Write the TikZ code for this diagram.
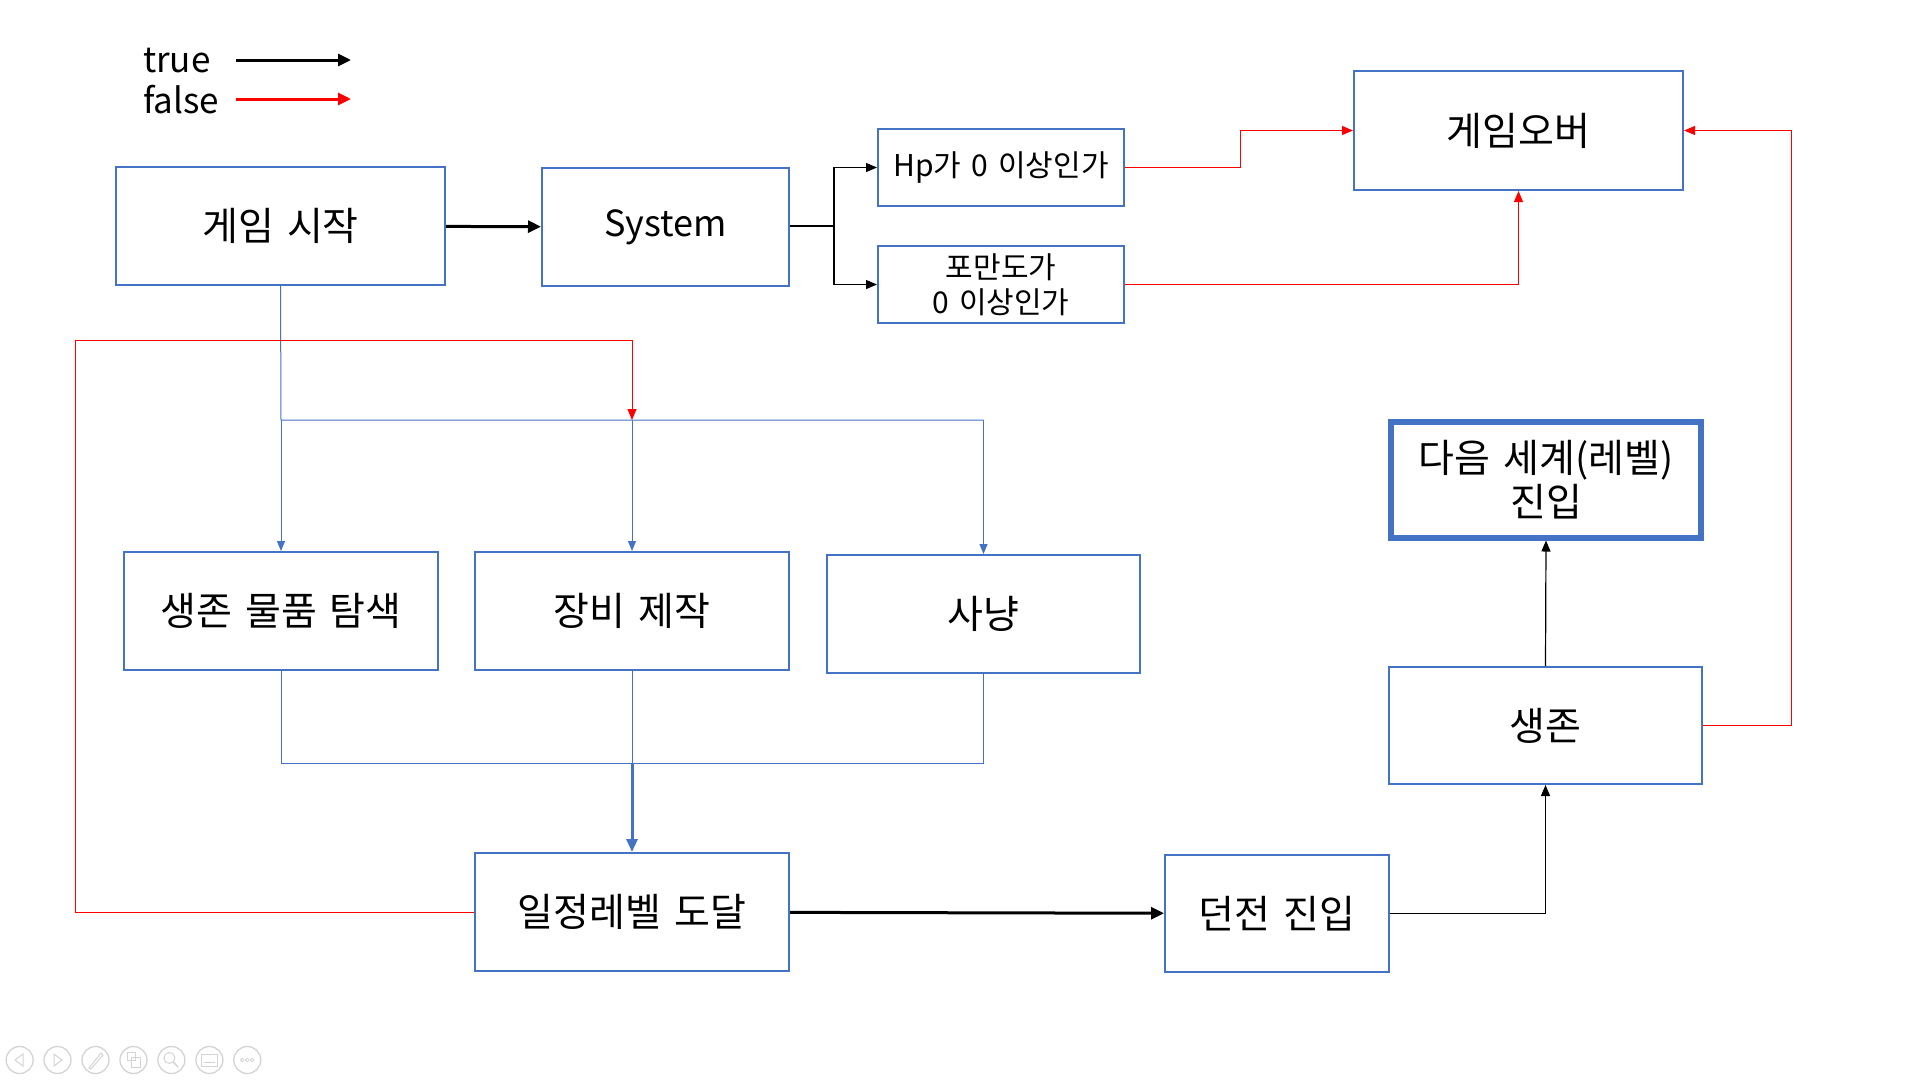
\documentclass[tikz,border=0pt]{standalone}
\usepackage{fontspec}
\setmainfont[WordSpace=1.5]{Noto Sans CJK KR}
\usetikzlibrary{arrows.meta}

\definecolor{boxblue}{HTML}{4472C4}
\definecolor{falsered}{HTML}{FF0000}
\definecolor{iconline}{HTML}{D4D4D4}

\tikzset{
  box/.style={draw=boxblue, line width=2pt, fill=white, inner sep=0pt,
              align=center, font=\fontsize{39}{44}\selectfont},
  smallbox/.style={box, font=\fontsize{30}{35}\selectfont},
  bigframe/.style={box, line width=6pt},
  legendtext/.style={anchor=west, inner sep=0pt, font=\fontsize{35}{40}\selectfont},
  thinblack/.style={line width=1.2pt, -{Triangle[length=11pt,width=9pt]}},
  thickblack/.style={line width=3pt, -{Triangle[length=13pt,width=12pt]}},
  thinred/.style={draw=falsered, line width=1pt, -{Triangle[length=11pt,width=9pt]}},
  thickred/.style={draw=falsered, line width=3pt, -{Triangle[length=13pt,width=12pt]}},
  blueline/.style={draw=boxblue, line width=1pt},
  bluearrow/.style={blueline, -{Triangle[length=10pt,width=8pt]}},
  thickblue/.style={draw=boxblue, line width=3pt, -{Triangle[length=13pt,width=11pt]}},
  icon/.style={draw=iconline, line width=1.3pt},
}

\begin{document}
\begin{tikzpicture}[x=1pt, y=-1pt]
  \useasboundingbox[fill=white] (0,0) rectangle (1920,1080);

  % legend
  \node[legendtext] (ltrue) at (143,61) {true};
  \node[legendtext] (lfalse) at (143,100) {false};
  \coordinate (ltrueA) at (236,60);  \coordinate (ltrueB) at (351,60);
  \coordinate (lfalseA) at (236,99); \coordinate (lfalseB) at (351,99);
  \draw[thickblack] (ltrueA) -- (ltrueB);
  \draw[thickred] (lfalseA) -- (lfalseB);

  % boxes
  \node[box, minimum width=329, minimum height=118] (start) at (280.5,226) {게임 시작};
  \node[box, minimum width=247, minimum height=118, font=\fontsize{36}{42}\selectfont] (sys) at (665.5,227) {System};
  \node[smallbox, minimum width=246, minimum height=77] (hp) at (1001,167.5) {Hp가 0 이상인가};
  \node[smallbox, minimum width=246, minimum height=77] (food) at (1001,284.5) {포만도가\\0 이상인가};
  \node[box, minimum width=329, minimum height=119] (over) at (1518.5,130.5) {게임오버};
  \node[bigframe, minimum width=310, minimum height=116] (next) at (1546,479.5) {다음 세계(레벨)\\진입};
  \node[box, minimum width=313, minimum height=117] (live) at (1545.5,725.5) {생존};
  \node[box, minimum width=314, minimum height=118] (find) at (281,611) {생존 물품 탐색};
  \node[box, minimum width=314, minimum height=118] (craft) at (632,611) {장비 제작};
  \node[box, minimum width=313, minimum height=118] (hunt) at (983.5,614) {사냥};
  \node[box, minimum width=314, minimum height=118] (lvl) at (632,912) {일정레벨 도달};
  \node[box, minimum width=224, minimum height=117] (dungeon) at (1277,913.5) {던전 진입};

  % system checks
  \draw[thickblack] (start) -- (sys);
  \coordinate (split) at (834,226);
  \draw[line width=1.2pt] (sys.east |- split) -- (split);
  \draw[thinblack] (split) |- (hp.west);
  \draw[thinblack] (split) |- (food.west);

  % failed checks lead to game over
  \coordinate (hpstep) at (1240,167.5);
  \draw[thinred] (hp.east) -- (hpstep) |- (over.west);
  \draw[thinred] (food.east) -| (over.south);
  \coordinate (liveturn) at (1791,725.5);
  \draw[thinred] (live.east) -- (liveturn) |- (over.east);

  % branching into the three activities
  \coordinate (fanL) at (281,420);
  \coordinate (fanM) at (632,420);
  \coordinate (fanR) at (983.5,420);
  \draw[blueline] (start.south) -- (fanL) -- (fanR);
  \draw[bluearrow] (fanL) -- (find.north);
  \draw[bluearrow] (fanM) -- (craft.north);
  \draw[bluearrow] (fanR) -- (hunt.north);

  % level not reached: loop back
  \coordinate (loopA) at (75,912);
  \coordinate (loopB) at (75,340);
  \draw[thinred] (lvl.west) -- (loopA) -- (loopB) -| (fanM);

  % activities merge into level check
  \coordinate (mergeM) at (632,763);
  \draw[blueline] (find.south) |- (mergeM);
  \draw[blueline] (hunt.south) |- (mergeM);
  \draw[blueline] (craft.south) -- (mergeM);
  \draw[thickblue] (mergeM) -- (lvl.north);

  % dungeon route
  \draw[thickblack] (lvl) -- (dungeon);
  \draw[thinblack] (dungeon.east) -| (live.south);
  \draw[thinblack] (live.north) -- (next.south);

  % slide show controls
  \foreach \cx in {19.6, 57.5, 95.5, 133.5, 171.4, 209.4, 247.3}{
    \draw[icon] (\cx,1060) circle[radius=13.5];
  }
  \draw[icon, line width=1pt] (23,1054) -- (15,1060) -- (23,1066) -- cycle;
  \draw[icon, line width=1pt] (54,1054) -- (62,1060) -- (54,1066) -- cycle;
  \draw[icon, line width=1pt] (89,1068) -- (101,1053) -- (103,1055) -- (91,1069) -- cycle;
  \draw[icon, line width=1pt] (127,1052) rectangle (135,1060);
  \draw[icon, line width=1pt] (131,1057) rectangle (140,1067);
  \draw[icon, line width=1pt] (169.4,1058) circle[radius=5.5];
  \draw[icon, line width=1.5pt] (173.4,1062) -- (178,1067);
  \draw[icon, line width=1pt] (201.4,1054) rectangle (217.4,1066);
  \draw[icon, line width=0.8pt] (204,1062) -- (215,1062);
  \foreach \dx in {-5,0,5}{
    \draw[icon, line width=0.8pt] (247.3+\dx,1060) circle[radius=1.8];
  }
\end{tikzpicture}
\end{document}
